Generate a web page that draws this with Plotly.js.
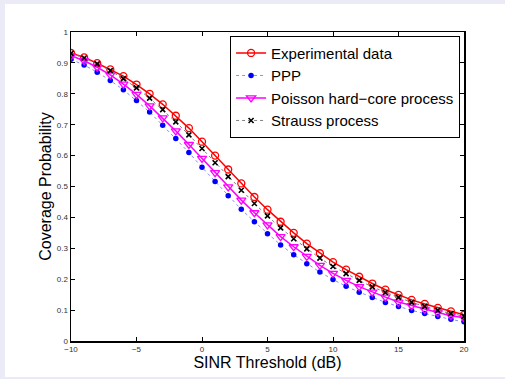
<!DOCTYPE html>
<html>
<head>
<meta charset="utf-8">
<script src="https://cdn.plot.ly/plotly-3.0.1.min.js"></script>
<style>
  html, body { margin: 0; padding: 0; width: 505px; height: 379px; background: #ebebf7; overflow: hidden; }
  #frame { position: absolute; left: 5px; top: 4px; width: 500px; height: 373px; background: #ffffff; }
  #chart { width: 500px; height: 373px; }
</style>
</head>
<body>
<div id="frame"><div id="chart"></div></div>
<script>
const sinrDb = [-10, -9, -8, -7, -6, -5, -4, -3, -2, -1, 0, 1, 2, 3, 4, 5, 6, 7, 8, 9, 10, 11, 12, 13, 14, 15, 16, 17, 18, 19, 20];

const experimental = [0.932, 0.918, 0.899, 0.879, 0.857, 0.830, 0.800, 0.766, 0.729, 0.689, 0.645,
  0.600, 0.555, 0.510, 0.466, 0.425, 0.386, 0.350, 0.315, 0.284, 0.255,
  0.231, 0.208, 0.186, 0.166, 0.149, 0.133, 0.120, 0.107, 0.096, 0.085];

const ppp = [0.912, 0.893, 0.870, 0.843, 0.813, 0.778, 0.741, 0.698, 0.655, 0.610, 0.562,
  0.516, 0.470, 0.426, 0.386, 0.347, 0.311, 0.279, 0.250, 0.223, 0.199,
  0.177, 0.158, 0.141, 0.125, 0.112, 0.099, 0.089, 0.079, 0.070, 0.062];

const hardCore = [0.923, 0.907, 0.886, 0.861, 0.831, 0.798, 0.761, 0.722, 0.680, 0.636, 0.591,
  0.545, 0.499, 0.456, 0.415, 0.376, 0.338, 0.305, 0.274, 0.245, 0.219,
  0.196, 0.176, 0.158, 0.142, 0.126, 0.114, 0.102, 0.092, 0.082, 0.075];

const strauss = [0.931, 0.916, 0.897, 0.875, 0.849, 0.819, 0.786, 0.749, 0.709, 0.667, 0.623,
  0.577, 0.532, 0.488, 0.445, 0.405, 0.366, 0.331, 0.298, 0.268, 0.241,
  0.218, 0.196, 0.175, 0.157, 0.141, 0.125, 0.112, 0.099, 0.089, 0.080];

const seriesNames = ["Experimental data", "PPP", "Poisson hard\u2212core process", "Strauss process"];
const xTickVals = [-10, -5, 0, 5, 10, 15, 20];
const yTickVals = [0, 0.1, 0.2, 0.3, 0.4, 0.5, 0.6, 0.7, 0.8, 0.9, 1];
const yTickText = ["0", "0.1", "0.2", "0.3", "0.4", "0.5", "0.6", "0.7", "0.8", "0.9", "1"];

const FONT = "Liberation Sans, Arial, Helvetica, sans-serif";

const traces = [
  {
    x: sinrDb, y: experimental, name: seriesNames[0], type: "scatter", mode: "lines+markers",
    line: { color: "#ff0000", width: 1.5 },
    marker: { symbol: "circle-open", size: 7, color: "#ff0000", line: { color: "#ff0000", width: 1.3 } }
  },
  {
    x: sinrDb, y: ppp, name: seriesNames[1], type: "scatter", mode: "lines+markers",
    line: { color: "#8a8aff", width: 1, dash: "dot" },
    marker: { symbol: "circle", size: 5.5, color: "#0000ff" }
  },
  {
    x: sinrDb, y: hardCore, name: seriesNames[2], type: "scatter", mode: "lines+markers",
    line: { color: "#ff00ff", width: 1.5 },
    marker: { symbol: "triangle-down-open", size: 8, color: "#ff00ff", line: { color: "#ff00ff", width: 1.3 } }
  },
  {
    x: sinrDb, y: strauss, name: seriesNames[3], type: "scatter", mode: "lines+markers",
    line: { color: "#808080", width: 1, dash: "dot" },
    marker: { symbol: "x-thin-open", size: 5, color: "#000000", line: { color: "#000000", width: 1.6 } }
  }
];

const axisCommon = {
  showgrid: false, zeroline: false,
  showline: true, linecolor: "#000000", linewidth: 1.5, mirror: "ticks",
  ticks: "inside", ticklen: 4, tickwidth: 1, tickcolor: "#000000",
  tickfont: { family: FONT, size: 8, color: "#333333" }
};

const layout = {
  width: 500, height: 373,
  paper_bgcolor: "#ffffff", plot_bgcolor: "#ffffff",
  margin: { l: 66, r: 41, t: 28, b: 36 },
  showlegend: true,
  xaxis: Object.assign({}, axisCommon, {
    range: [-10, 20], tickmode: "array", tickvals: xTickVals,
    title: { text: "SINR Threshold (dB)", font: { family: FONT, size: 16, color: "#000000" }, standoff: 2 }
  }),
  yaxis: Object.assign({}, axisCommon, {
    range: [0, 1], tickmode: "array", tickvals: yTickVals, ticktext: yTickText,
    title: { text: "Coverage Probability", font: { family: FONT, size: 16, color: "#000000" }, standoff: 1 }
  }),
  legend: {
    x: 0.99, y: 0.988, xanchor: "right", yanchor: "top",
    bgcolor: "#ffffff", bordercolor: "#000000", borderwidth: 1,
    font: { family: FONT, size: 15, color: "#000000" },
    tracegroupgap: 0, itemwidth: 30
  }
};

Plotly.newPlot("chart", traces, layout, { staticPlot: true, displayModeBar: false });
</script>
</body>
</html>
